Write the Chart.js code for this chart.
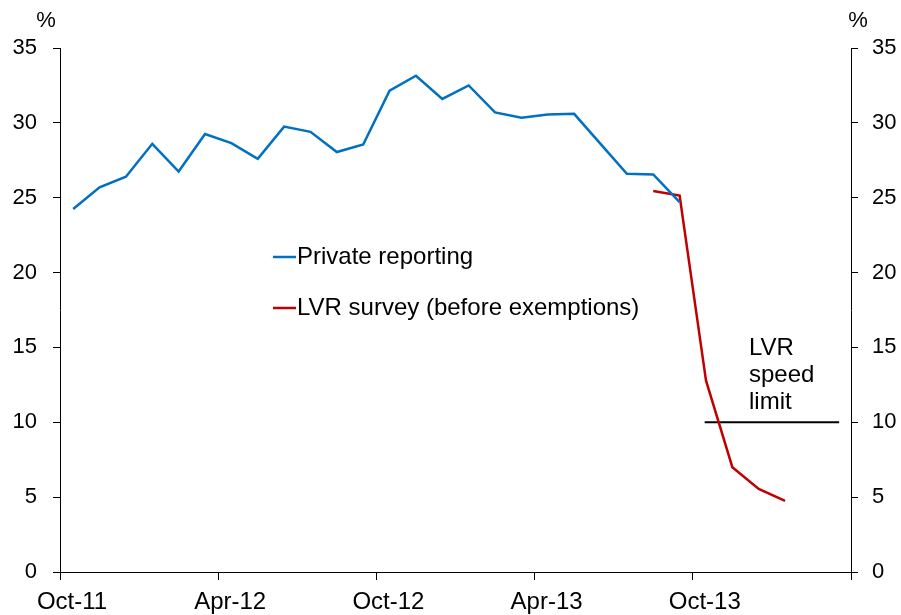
<!DOCTYPE html>
<html>
<head>
<meta charset="utf-8">
<script src="https://cdn.jsdelivr.net/npm/chart.js@4/dist/chart.umd.min.js"></script>
<style>
  html, body { margin: 0; padding: 0; background: #fff; }
  #wrap { position: relative; width: 901px; height: 615px; }
</style>
</head>
<body>
<div id="wrap"><canvas id="lvr-chart"></canvas></div>
<script>
// months from Oct-11, index 0 = Oct-11
const xTickLabels = ['Oct-11', 'Apr-12', 'Oct-12', 'Apr-13', 'Oct-13', ''];

// Private reporting, Oct-11 .. Sep-13
const privateStart = 0;
const privateValues = [24.25, 25.7, 26.4, 28.6, 26.75, 29.25, 28.65, 27.6, 29.75, 29.4, 28.05, 28.55,
                       32.15, 33.15, 31.6, 32.5, 30.7, 30.35, 30.55, 30.6, 28.6, 26.6, 26.55, 24.7];

// LVR survey (before exemptions), Aug-13 .. Jan-14
const surveyStart = 22;
const surveyValues = [25.45, 25.15, 12.8, 7.0, 5.55, 4.75];

// LVR speed limit line
const speedLimitX = [24.45, 29.55];
const speedLimitY = 10;
const speedLimitText = ['LVR', 'speed', 'limit'];

const FONT = 'Arial, "Liberation Sans", sans-serif';
const BLUE = '#0070C0';
const RED = '#C00000';

function toPoints(start, values) {
    return values.map((v, i) => ({ x: start + i + 0.5, y: v }));
}

// legend drawn inside the plot
const insideLegend = {
    id: 'insideLegend',
    afterDraw(chart) {
        const ctx = chart.ctx;
        const items = [
            { ds: chart.data.datasets[0], y: 257 },
            { ds: chart.data.datasets[1], y: 308 }
        ];
        ctx.save();
        ctx.font = '24px ' + FONT;
        ctx.textBaseline = 'middle';
        ctx.fillStyle = '#000';
        items.forEach(it => {
            ctx.strokeStyle = it.ds.borderColor;
            ctx.lineWidth = 2.5;
            ctx.beginPath();
            ctx.moveTo(273, it.y);
            ctx.lineTo(296, it.y);
            ctx.stroke();
            ctx.fillText(it.ds.label, 297, it.y);
        });
        ctx.restore();
    }
};

// % units and the speed limit note
const extraText = {
    id: 'extraText',
    afterDraw(chart) {
        const ctx = chart.ctx;
        ctx.save();
        ctx.fillStyle = '#000';
        ctx.font = '22px ' + FONT;
        ctx.textAlign = 'center';
        ctx.textBaseline = 'middle';
        ctx.fillText('%', 46, 21);
        ctx.fillText('%', 858, 21);

        ctx.font = '24px ' + FONT;
        ctx.textAlign = 'left';
        ctx.textBaseline = 'alphabetic';
        speedLimitText.forEach((t, i) => {
            ctx.fillText(t, 749, 355 + i * 27);
        });
        ctx.restore();
    }
};

function yScale(position, width, pad) {
    return {
        position: position,
        min: 0,
        max: 35,
        grid: { display: true, drawOnChartArea: false, drawTicks: true, tickLength: 7, color: '#000' },
        border: { display: true, color: '#000', width: 1 },
        ticks: { stepSize: 5, color: '#000', padding: pad, font: { family: FONT, size: 22 } },
        afterFit: s => { s.width = width; }
    };
}

new Chart(document.getElementById('lvr-chart'), {
    type: 'line',
    data: {
        datasets: [
            {
                label: 'Private reporting',
                data: toPoints(privateStart, privateValues),
                borderColor: BLUE,
                borderWidth: 2.5,
                pointRadius: 0,
                tension: 0,
                yAxisID: 'y'
            },
            {
                label: 'LVR survey (before exemptions)',
                data: toPoints(surveyStart, surveyValues),
                borderColor: RED,
                borderWidth: 2.5,
                pointRadius: 0,
                tension: 0,
                yAxisID: 'y'
            },
            {
                label: 'LVR speed limit',
                data: speedLimitX.map(x => ({ x: x, y: speedLimitY })),
                borderColor: '#000',
                borderWidth: 2,
                pointRadius: 0,
                tension: 0,
                yAxisID: 'y'
            }
        ]
    },
    options: {
        responsive: true,
        maintainAspectRatio: false,
        animation: false,
        layout: { padding: { top: 48, left: 0, right: 0, bottom: 0 } },
        plugins: {
            legend: { display: false },
            tooltip: { enabled: false }
        },
        scales: {
            x: {
                type: 'linear',
                min: 0,
                max: 30,
                grid: { display: true, drawOnChartArea: false, drawTicks: true, tickLength: 8, color: '#000' },
                border: { display: true, color: '#000', width: 1 },
                ticks: {
                    stepSize: 6,
                    autoSkip: false,
                    maxRotation: 0,
                    color: '#000',
                    padding: 8,
                    labelOffset: 12,
                    font: { family: FONT, size: 24 },
                    callback: v => xTickLabels[Math.round(v / 6)] || ''
                },
                afterFit: s => { s.height = 43; }
            },
            y: yScale('left', 60, 16),
            y2: yScale('right', 50, 14)
        }
    },
    plugins: [insideLegend, extraText]
});
</script>
</body>
</html>
